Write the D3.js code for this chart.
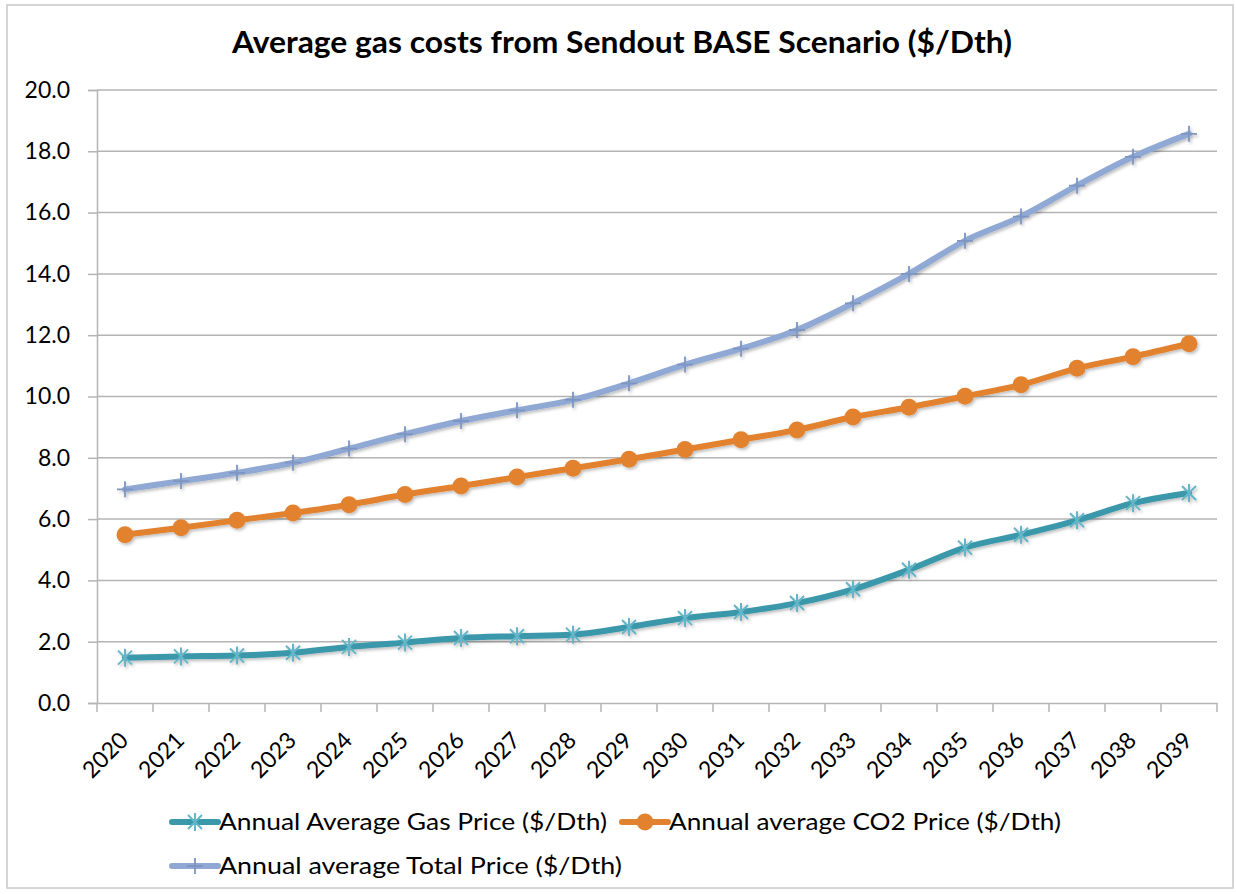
<!DOCTYPE html>
<html>
<head>
<meta charset="utf-8">
<script src="https://cdn.jsdelivr.net/npm/d3@7"></script>
<style>
  body { margin: 0; background: #fff; }
  svg { display: block; font-family: Lato, "Open Sans", sans-serif; }
</style>
</head>
<body>
<svg id="chart" width="1236" height="894"></svg>
<script>
const years = ["2020","2021","2022","2023","2024","2025","2026","2027","2028","2029",
               "2030","2031","2032","2033","2034","2035","2036","2037","2038","2039"];
const gasPrice = [1.48,1.52,1.55,1.64,1.83,1.97,2.12,2.18,2.23,2.48,
                  2.77,2.97,3.26,3.71,4.35,5.07,5.49,5.96,6.52,6.85];
const co2Price = [5.49,5.72,5.96,6.20,6.47,6.80,7.08,7.37,7.66,7.95,
                  8.27,8.59,8.91,9.33,9.65,10.01,10.38,10.92,11.30,11.72];
const totalPrice = [6.97,7.24,7.51,7.84,8.30,8.77,9.20,9.55,9.89,10.43,
                    11.04,11.56,12.17,13.04,14.00,15.08,15.87,16.88,17.82,18.57];
const yTicks = [0,2,4,6,8,10,12,14,16,18,20];

const series = [
  { name: "Annual Average Gas Price ($/Dth)", values: gasPrice, color: "#3A98AB", marker: "star", mcolor: "#62B6C8" },
  { name: "Annual average CO2 Price ($/Dth)", values: co2Price, color: "#E2822F", marker: "circle", mcolor: "#E2822F" },
  { name: "Annual average Total Price ($/Dth)", values: totalPrice, color: "#8FA8D4", marker: "plus", mcolor: "#7E95C2" }
];

const svg = d3.select("#chart");
const plotLeft = 97, plotRight = 1217, plotTop = 90, plotBottom = 703;
const grid = "#B4B4B4";

// chart border
svg.append("rect").attr("x", 7).attr("y", 5).attr("width", 1226).attr("height", 883)
  .attr("fill", "none").attr("stroke", "#C8C8C8").attr("stroke-width", 1.5);

const defs = svg.append("defs");
defs.append("filter").attr("id", "shadow").attr("x", "-5%").attr("y", "-5%").attr("width", "110%").attr("height", "120%")
  .append("feDropShadow").attr("dx", 1.5).attr("dy", 2).attr("stdDeviation", 1.5)
  .attr("flood-color", "#000").attr("flood-opacity", 0.25);

const x = d3.scaleBand().domain(years).range([plotLeft, plotRight]);
const y = d3.scaleLinear().domain([0, 20]).range([plotBottom, plotTop]);

// title
svg.append("text").attr("x", 622).attr("y", 53).attr("text-anchor", "middle")
  .attr("font-size", 30).attr("font-weight", "bold").attr("fill", "#000")
  .attr("textLength", 780).attr("lengthAdjust", "spacingAndGlyphs")
  .text("Average gas costs from Sendout BASE Scenario ($/Dth)");

// gridlines
svg.append("g").selectAll("line").data(yTicks.filter(d => d > 0)).join("line")
  .attr("x1", plotLeft).attr("x2", plotRight).attr("y1", d => y(d)).attr("y2", d => y(d))
  .attr("stroke", grid).attr("stroke-width", 1.5);

// y axis
const yAxis = svg.append("g").attr("transform", `translate(${plotLeft},0)`)
  .call(d3.axisLeft(y).tickValues(yTicks).tickFormat(d3.format(".1f")).tickSize(9).tickPadding(18));
yAxis.select(".domain").attr("stroke", grid).attr("stroke-width", 1.5);
yAxis.selectAll(".tick line").attr("stroke", grid).attr("stroke-width", 1.5);
yAxis.selectAll(".tick text").attr("font-size", 23).attr("fill", "#000")
  .attr("font-family", "Lato, 'Open Sans', sans-serif");

// x axis
const xAxis = svg.append("g").attr("transform", `translate(0,${plotBottom})`)
  .call(d3.axisBottom(x).tickSize(0).tickFormat(""));
xAxis.select(".domain").attr("stroke", grid).attr("stroke-width", 1.5);
const edges = years.map(d => x(d)).concat([plotRight]);
xAxis.selectAll(".edge").data(edges).join("line").attr("class", "edge")
  .attr("x1", d => d).attr("x2", d => d).attr("y1", 0).attr("y2", 9)
  .attr("stroke", grid).attr("stroke-width", 1.5);
svg.append("g").selectAll("text").data(years).join("text")
  .attr("transform", d => `translate(${x(d) + x.bandwidth() / 2 - 1},${plotBottom + 33}) rotate(-45)`)
  .attr("text-anchor", "end").attr("dy", "0.35em")
  .attr("font-size", 23).attr("fill", "#000")
  .text(d => d);

// lines
const line = d3.line()
  .x((d, i) => x(years[i]) + x.bandwidth() / 2)
  .y(d => y(d))
  .curve(d3.curveMonotoneX);

function drawMarker(g, type, color) {
  if (type === "circle") {
    g.append("circle").attr("r", 8.5).attr("fill", color);
  } else if (type === "star") {
    const s = 7;
    g.append("path").attr("d", `M${-s},${-s}L${s},${s}M${-s},${s}L${s},${-s}M0,${-s - 2}L0,${s + 2}`)
      .attr("stroke", color).attr("stroke-width", 2).attr("fill", "none");
  } else {
    const s = 8;
    g.append("path").attr("d", `M${-s},0L${s},0M0,${-s}L0,${s}`)
      .attr("stroke", color).attr("stroke-width", 1.8).attr("fill", "none");
  }
}

const seriesOrder = [series[2], series[1], series[0]];
seriesOrder.forEach(s => {
  const g = svg.append("g").attr("filter", "url(#shadow)");
  g.append("path").datum(s.values).attr("d", line)
    .attr("fill", "none").attr("stroke", s.color).attr("stroke-width", 6)
    .attr("stroke-linejoin", "round").attr("stroke-linecap", "round");
  s.values.forEach((v, i) => {
    const m = g.append("g").attr("transform", `translate(${x(years[i]) + x.bandwidth() / 2},${y(v)})`);
    drawMarker(m, s.marker, s.mcolor);
  });
});

// legend
const legendItems = [
  { s: series[0], lx: 172, ly: 822, tl: 388 },
  { s: series[1], lx: 622, ly: 822, tl: 392 },
  { s: series[2], lx: 172, ly: 866, tl: 403 }
];
legendItems.forEach(it => {
  const g = svg.append("g").attr("transform", `translate(${it.lx},${it.ly})`);
  g.append("line").attr("x1", 0).attr("x2", 46).attr("y1", 0).attr("y2", 0)
    .attr("stroke", it.s.color).attr("stroke-width", 6).attr("stroke-linecap", "round");
  const m = g.append("g").attr("transform", "translate(23,0)");
  drawMarker(m, it.s.marker, it.s.mcolor);
  g.append("text").attr("x", 47).attr("y", 0).attr("dy", "0.35em")
    .attr("font-size", 23).attr("fill", "#000")
    .attr("textLength", it.tl).attr("lengthAdjust", "spacingAndGlyphs")
    .text(it.s.name);
});
</script>
</body>
</html>
